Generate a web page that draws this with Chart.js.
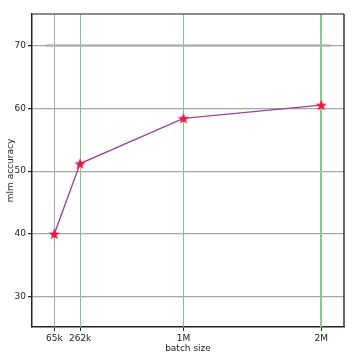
<!DOCTYPE html>
<html>
<head>
<meta charset="utf-8">
<script src="https://cdn.jsdelivr.net/npm/chart.js@4"></script>
<style>
html,body{margin:0;padding:0;background:#fff}
#wrap{width:356px;height:362px}
</style>
</head>
<body>
<div id="wrap"><canvas id="c" width="356" height="362"></canvas></div>
<script>
// batch sizes and accuracy
const batchSizes=[65536,262144,1048576,2097152]
const tickLabels=["65k","262k","1M","2M"]
const mlmAccuracy=[40.0,51.2,58.4,60.5]
const refLineX=[0,2165000]
const refLineY=[70,70]
const yTicks=[30,40,50,60,70]
const vColors=["#a6a6a6","#80c490","#80c490","#88c897"]
const vWidths=[1,1,1,2]

// filled 5 point star marker
function makeStar(size,color){
const cv=document.createElement("canvas")
cv.width=size
cv.height=size
const g=cv.getContext("2d")
const cx=size/2,cy=size/2+0.5,ro=size/2,ri=ro*0.42
g.beginPath()
for(let i=0;i<10;i++){
const r=i%2?ri:ro
const a=-Math.PI/2+i*Math.PI/5
g.lineTo(cx+r*Math.cos(a),cy+r*Math.sin(a))
}
g.closePath()
g.fillStyle=color
g.fill()
return cv
}
const star=makeStar(12,"#e8173f")

// vertical grid lines at the batch sizes, placed through the x scale
const vgrid={
id:"vgrid",
beforeDatasetsDraw(chart){
const a=chart.chartArea,g=chart.ctx,xs=chart.scales.x
g.save()
batchSizes.forEach((v,i)=>{
let px=Math.round(xs.getPixelForValue(v))
if(vWidths[i]%2) px+=0.5
g.strokeStyle=vColors[i]
g.lineWidth=vWidths[i]
g.beginPath();g.moveTo(px,a.top);g.lineTo(px,a.bottom);g.stroke()
})
g.restore()
}
}

const frame={
id:"frame",
afterDatasetsDraw(chart){
const a=chart.chartArea,g=chart.ctx
g.save()
g.lineWidth=1.5
g.strokeStyle="#666"
g.beginPath();g.moveTo(a.left,a.top);g.lineTo(a.right,a.top);g.stroke()
g.strokeStyle="#333"
g.beginPath();g.moveTo(a.right,a.top);g.lineTo(a.right,a.bottom);g.stroke()
g.restore()
}
}

const font={family:"DejaVu Sans",size:9}

new Chart(document.getElementById("c"),{
type:"scatter",
data:{
datasets:[{
data:refLineX.map((x,i)=>({x:x,y:refLineY[i]})),
showLine:true,
borderColor:"#b4b4b4",
borderWidth:2.5,
pointRadius:0
},{
data:batchSizes.map((x,i)=>({x:x,y:mlmAccuracy[i]})),
showLine:true,
borderColor:"#9c449c",
borderWidth:1.4,
pointStyle:star,
pointRadius:6
}]
},
options:{
responsive:false,
animation:false,
layout:{padding:{left:5,top:14,right:12,bottom:8}},
plugins:{legend:{display:false},tooltip:{enabled:false}},
scales:{
x:{
type:"linear",
min:-104000,
max:2270000,
afterFit(s){s.height=27},
afterBuildTicks(s){s.ticks=batchSizes.map(v=>({value:v}))},
ticks:{
font:font,color:"#222",padding:2,autoSkip:false,maxRotation:0,
callback:(v)=>tickLabels[batchSizes.indexOf(v)]
},
grid:{drawOnChartArea:false,tickColor:"#222",tickLength:4},
border:{color:"#222",width:1.5},
title:{display:true,text:"batch size",font:font,color:"#222",padding:{top:0,bottom:0}}
},
y:{
min:25.2,
max:75,
afterFit(s){s.width=27},
afterBuildTicks(s){s.ticks=yTicks.map(v=>({value:v}))},
ticks:{font:font,color:"#222",padding:2},
grid:{color:"#a6a6a6",lineWidth:1.2,tickColor:"#222",tickLength:4},
border:{color:"#222",width:1.5},
title:{display:true,text:"mlm accuracy",font:font,color:"#222",padding:{top:0,bottom:0}}
}
}
},
plugins:[vgrid,frame]
})
</script>
</body>
</html>
